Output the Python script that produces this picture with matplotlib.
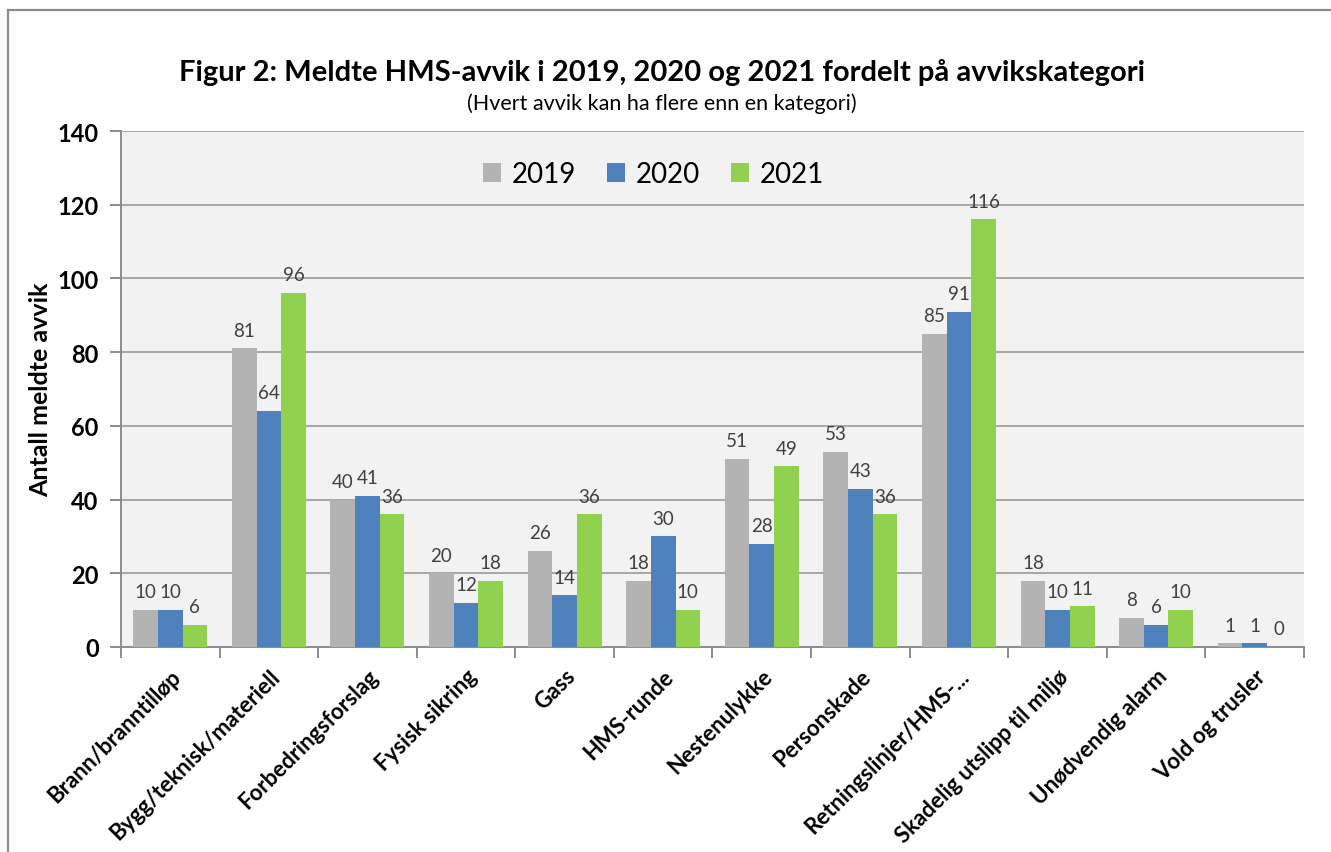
import numpy as np
import matplotlib.pyplot as plt
from matplotlib.patches import Rectangle

categories = ['Brann/branntilløp', 'Bygg/teknisk/materiell', 'Forbedringsforslag',
              'Fysisk sikring', 'Gass', 'HMS-runde', 'Nestenulykke', 'Personskade',
              'Retningslinjer/HMS-...', 'Skadelig utslipp til miljø',
              'Unødvendig alarm', 'Vold og trusler']
years = ['2019', '2020', '2021']
v2019 = [10, 81, 40, 20, 26, 18, 51, 53, 85, 18, 8, 1]
v2020 = [10, 64, 41, 12, 14, 30, 28, 43, 91, 10, 6, 1]
v2021 = [6, 96, 36, 18, 36, 10, 49, 36, 116, 11, 10, 0]
colors = ['#B3B3B3', '#4F81BD', '#92D050']

plt.rcParams['font.family'] = ['Lato', 'DejaVu Sans']

fig = plt.figure(figsize=(13.31, 8.53), dpi=100)
ax = fig.add_axes([121 / 1331, 1 - 648 / 853, (1304 - 121) / 1331, (648 - 132) / 853])

# outer frame of the chart
fig.patches.append(Rectangle((8 / 1331, -0.05), 1.1, 1 - 11 / 853 + 0.05,
                             transform=fig.transFigure, fill=False,
                             edgecolor='#8C8C8C', lw=1.6))

x = np.arange(len(categories))
w = 0.25
for i, (vals, c, lab) in enumerate(zip([v2019, v2020, v2021], colors, years)):
    bars = ax.bar(x + (i - 1) * w, vals, w, color=c, label=lab, zorder=3)
    for b, v in zip(bars, vals):
        ax.annotate(str(v), (b.get_x() + b.get_width() / 2, v), xytext=(0, 7),
                    textcoords='offset points', ha='center', va='bottom',
                    fontsize=13.5, color='#404040')

ax.set_facecolor('#F2F2F2')
ax.set_xlim(-0.5, len(categories) - 0.5)
ax.set_ylim(0, 140)
ax.set_yticks(range(0, 141, 20))
ax.grid(axis='y', color='#9A9A9A', lw=1.2, zorder=0)
for s in ['top', 'right']:
    ax.spines[s].set_visible(False)
for s in ['left', 'bottom']:
    ax.spines[s].set_color('#8C8C8C')
    ax.spines[s].set_linewidth(1.4)

ax.set_xticks(x)
ax.set_xticklabels(categories, rotation=45, ha='right', rotation_mode='anchor',
                   fontsize=16, fontweight='bold')
ax.set_xticks(np.arange(-0.5, len(categories), 1), minor=True)
ax.tick_params(axis='x', which='major', length=0, pad=13)
ax.tick_params(axis='x', which='minor', length=8, width=1.4, color='#8C8C8C')
ax.tick_params(axis='y', length=8, width=1.4, color='#8C8C8C', labelsize=17, pad=8)
for t in ax.get_yticklabels():
    t.set_fontweight('bold')

ax.set_ylabel('Antall meldte avvik', fontsize=18, fontweight='bold', labelpad=4)

fig.text(0.497, 1 - 72 / 853, 'Figur 2: Meldte HMS-avvik i 2019, 2020 og 2021 fordelt på avvikskategori',
         ha='center', va='center', fontsize=21, fontweight='bold')
fig.text(0.497, 1 - 104 / 853, '(Hvert avvik kan ha flere enn en kategori)',
         ha='center', va='center', fontsize=15.5)

ax.legend(loc='upper center', bbox_to_anchor=(0.45, 0.99), ncol=3, frameon=False,
          fontsize=20, handlelength=0.65, handleheight=0.65, handletextpad=0.4,
          columnspacing=1.1)

fig.savefig('out.png', dpi=100)
